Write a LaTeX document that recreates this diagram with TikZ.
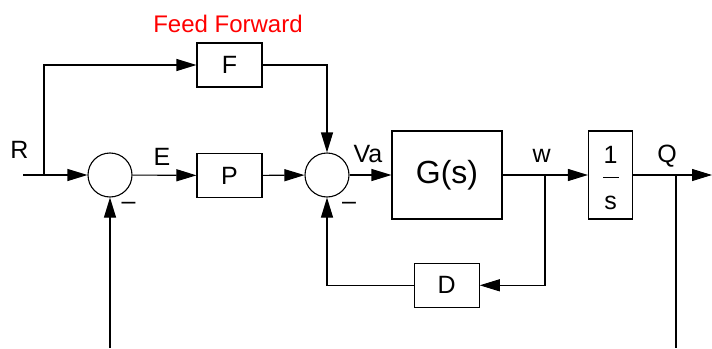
\documentclass[tikz,border=0pt]{standalone}
\usepackage{fontspec}
\setmainfont{Liberation Sans}
\usetikzlibrary{arrows.meta}
\begin{document}
\begin{tikzpicture}[x=1pt,y=-1pt,
  line width=1.1pt,
  every node/.style={font=\fontsize{25}{30}\selectfont},
  blk/.style={draw,rectangle,inner sep=0pt,line width=1.1pt},
  sumj/.style={draw,circle,minimum size=44pt,inner sep=0pt,line width=1.1pt},
  arr/.style={-{Triangle[length=20pt,width=12pt]}},
  lbl/.style={anchor=base,inner sep=0pt},
  minus/.style={anchor=base,inner sep=0pt}]
\useasboundingbox (0,0) rectangle (712,348);
% blocks
\node[sumj] (c1) at (110,175) {};
\node[sumj] (c2) at (327,175) {};
\node[blk,minimum width=65pt,minimum height=44pt] (F) at (229.5,65) {F};
\node[blk,minimum width=65pt,minimum height=44pt] (P) at (229.5,175.5) {P};
\node[blk,minimum width=110pt,minimum height=88pt,font=\fontsize{32}{38}\selectfont] (G) at (447,175) {G(s)};
\node[blk,minimum width=65pt,minimum height=44pt] (D) at (446.7,285.3) {D};
\node[blk,minimum width=44pt,minimum height=88pt] (I) at (610.5,175) {};
\node[inner sep=0pt] (one) at (610.5,155) {1};
\node[inner sep=0pt,anchor=base] (ess) at (610.5,209) {s};
\coordinate (barl) at (603,177.7);
\coordinate (barr) at (619,177.7);
\draw[line width=1pt] (barl) -- (barr);
% coordinates
\coordinate (Rin) at (23,175);
\coordinate (j1) at (44,175);
\coordinate (wj) at (545,175);
\coordinate (qj) at (676,175);
\coordinate (out) at (712,175);
\coordinate (b1) at (110,348);
\coordinate (bq) at (676,348);
% connectors
\draw[arr] (Rin) -- (c1);
\draw[arr] (j1) |- (F.west);
\draw[arr] (F.east) -| (c2.north);
\draw[arr] (c1) -- (P);
\draw[arr] (P) -- (c2);
\draw[arr] (c2) -- (G);
\draw[arr] (G) -- (I);
\draw[arr] (I) -- (out);
\draw[arr] (wj) |- (D.east);
\draw[arr] (D.west) -| (c2.south);
\draw[arr] (b1) -- (c1.south);
\draw (qj) -- (bq);
% labels
\node[lbl] (lR) at (19.3,158) {R};
\node[lbl] (lE) at (162,165) {E};
\node[lbl] (lVa) at (368,162) {Va};
\node[lbl] (lw) at (541.7,162) {w};
\node[lbl] (lQ) at (667,162) {Q};
\node[lbl,text=red,font=\fontsize{24}{29}\selectfont] (ff) at (228,32.3) {Feed Forward};
\node[minus] (m1) at (128.5,209.6) {–};
\node[minus] (m2) at (349,209.6) {–};
\end{tikzpicture}
\end{document}
